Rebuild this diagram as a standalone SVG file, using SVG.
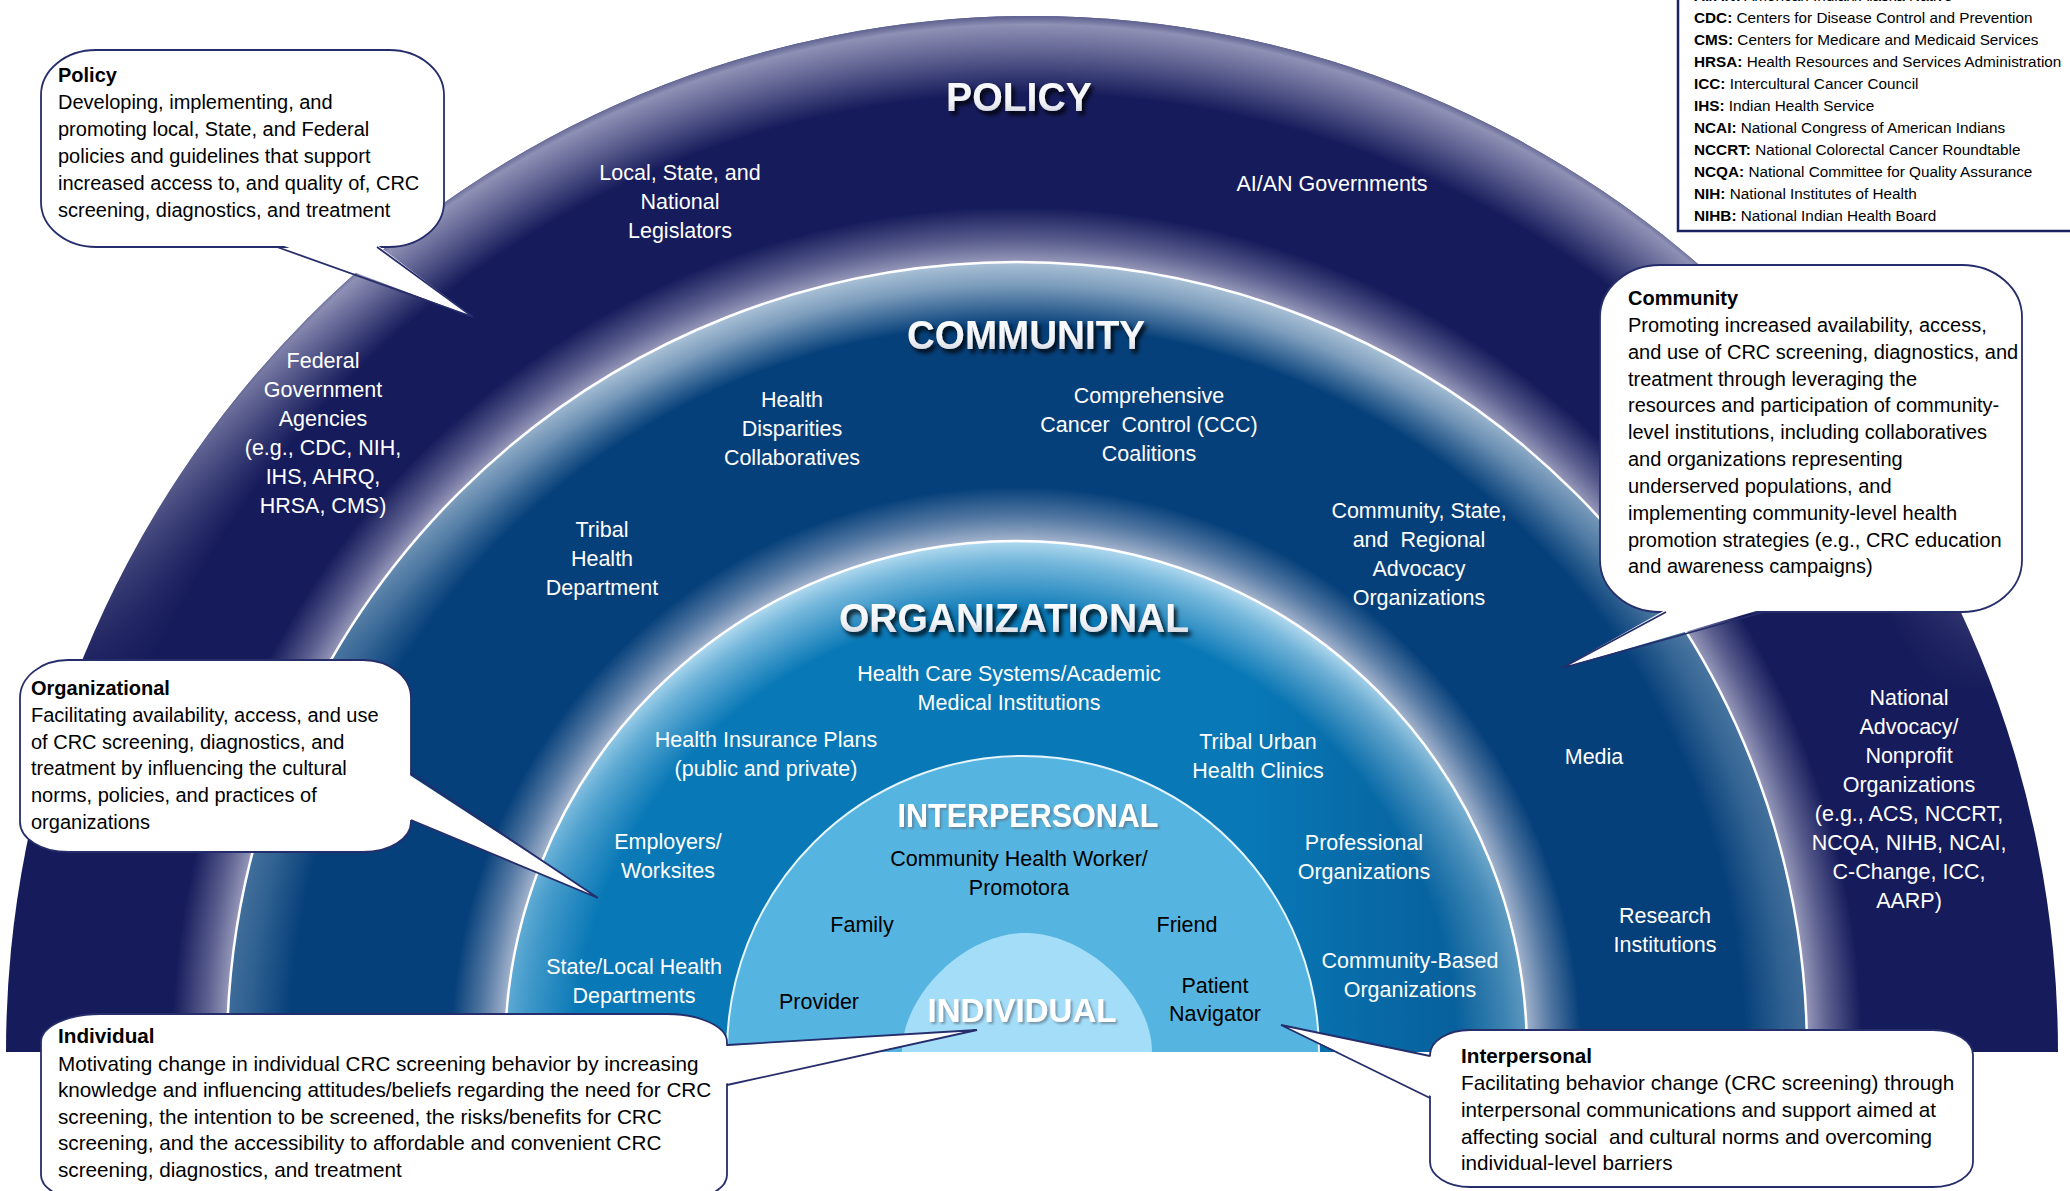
<svg xmlns="http://www.w3.org/2000/svg" width="2070" height="1191" viewBox="0 0 2070 1191">
<style>
.lbl{font-family:"Liberation Sans",Arial,sans-serif;font-size:21.5px;fill:#fff;text-anchor:middle}
.lbk{font-family:"Liberation Sans",Arial,sans-serif;font-size:21.5px;fill:#000;text-anchor:middle}
.bt{font-family:"Liberation Sans",Arial,sans-serif;font-size:20px;fill:#000}
.bt2{font-family:"Liberation Sans",Arial,sans-serif;font-size:20.7px;fill:#000}
.bh{font-weight:bold}
.leg{font-family:"Liberation Sans",Arial,sans-serif;font-size:15.3px;fill:#000}
.ttl{font-family:"Liberation Sans",Arial,sans-serif;font-weight:bold;font-size:41px;text-anchor:middle;fill:url(#gTitle)}
.ttl2{font-family:"Liberation Sans",Arial,sans-serif;font-weight:bold;font-size:33px;text-anchor:middle;fill:#fff}
.bub{fill:#fff;stroke:#262d6b;stroke-width:1.8}
.tailf{fill:#fff;stroke:none}
.tails{fill:none;stroke:#262d6b;stroke-width:1.8;stroke-linejoin:miter}
.wline{fill:none;stroke:#fff;stroke-width:2.5}
</style>
<defs>
<linearGradient id="gTitle" x1="0" y1="0" x2="0" y2="1">
<stop offset="0" stop-color="#ffffff"/><stop offset="0.6" stop-color="#f2f3f7"/><stop offset="1" stop-color="#c4c8d6"/>
</linearGradient>
<filter id="shDark" x="-10%" y="-40%" width="125%" height="190%">
<feDropShadow dx="3" dy="4" stdDeviation="2" flood-color="#000" flood-opacity="0.85"/>
</filter>
<filter id="shLight" x="-10%" y="-40%" width="125%" height="190%">
<feDropShadow dx="2" dy="2" stdDeviation="1.2" flood-color="#5f7489" flood-opacity="0.7"/>
</filter>
<radialGradient id="gPolGlow" gradientUnits="userSpaceOnUse" cx="1032" cy="1052" r="1036">
<stop offset="0.925" stop-color="#9698ba" stop-opacity="0"/>
<stop offset="0.97" stop-color="#9698ba" stop-opacity="0.65"/>
<stop offset="0.992" stop-color="#9c9ebf" stop-opacity="0.9"/>
<stop offset="1" stop-color="#7d80a6" stop-opacity="0.7"/>
</radialGradient>
<linearGradient id="fadePol" gradientUnits="userSpaceOnUse" x1="0" y1="0" x2="0" y2="1052">
<stop offset="0" stop-color="#fff"/><stop offset="0.28" stop-color="#fff"/><stop offset="0.66" stop-color="#000"/><stop offset="1" stop-color="#000"/>
</linearGradient>
<mask id="mPol" maskUnits="userSpaceOnUse" x="0" y="0" width="2070" height="1191"><rect width="2070" height="1191" fill="url(#fadePol)"/></mask>
<radialGradient id="gComHalo" gradientUnits="userSpaceOnUse" cx="1017" cy="1052" r="845">
<stop offset="0.93" stop-color="#acaec9" stop-opacity="0.95"/>
<stop offset="0.965" stop-color="#8f92b6" stop-opacity="0.5"/>
<stop offset="1" stop-color="#8f92b6" stop-opacity="0"/>
</radialGradient>
<radialGradient id="gComGlow" gradientUnits="userSpaceOnUse" cx="1017" cy="1052" r="790">
<stop offset="0.92" stop-color="#a6bdd3" stop-opacity="0"/>
<stop offset="0.972" stop-color="#a6bdd3" stop-opacity="0.75"/>
<stop offset="1" stop-color="#b3c8db" stop-opacity="0.95"/>
</radialGradient>
<linearGradient id="fadeCom" gradientUnits="userSpaceOnUse" x1="0" y1="250" x2="0" y2="1052">
<stop offset="0" stop-color="#fff"/><stop offset="0.15" stop-color="#fff"/><stop offset="0.5" stop-color="#6a6a6a"/><stop offset="1" stop-color="#555"/>
</linearGradient>
<mask id="mCom" maskUnits="userSpaceOnUse" x="0" y="0" width="2070" height="1191"><rect width="2070" height="1191" fill="url(#fadeCom)"/></mask>
<radialGradient id="gOrgHalo" gradientUnits="userSpaceOnUse" cx="1016" cy="1052" r="565">
<stop offset="0.9" stop-color="#c0c9dc" stop-opacity="0.9"/>
<stop offset="0.95" stop-color="#a9b6cf" stop-opacity="0.45"/>
<stop offset="1" stop-color="#a9b6cf" stop-opacity="0"/>
</radialGradient>
<radialGradient id="gOrgGlow" gradientUnits="userSpaceOnUse" cx="1016" cy="1052" r="511">
<stop offset="0.86" stop-color="#b8def2" stop-opacity="0"/>
<stop offset="0.96" stop-color="#b8def2" stop-opacity="0.62"/>
<stop offset="1" stop-color="#c4e4f5" stop-opacity="0.9"/>
</radialGradient>
<linearGradient id="fadeOrg" gradientUnits="userSpaceOnUse" x1="0" y1="540" x2="0" y2="1052">
<stop offset="0" stop-color="#fff"/><stop offset="0.2" stop-color="#fff"/><stop offset="0.7" stop-color="#8a8a8a"/><stop offset="1" stop-color="#808080"/>
</linearGradient>
<mask id="mOrg" maskUnits="userSpaceOnUse" x="0" y="0" width="2070" height="1191"><rect width="2070" height="1191" fill="url(#fadeOrg)"/></mask>
<linearGradient id="gOrgDark" gradientUnits="userSpaceOnUse" x1="1250" y1="0" x2="1530" y2="0">
<stop offset="0" stop-color="#05386f" stop-opacity="0"/><stop offset="1" stop-color="#05386f" stop-opacity="0.5"/>
</linearGradient>
</defs>

<rect width="2070" height="1191" fill="#fff"/>

<g id="policy">
<path d="M 6 1052 A 1026 1036 0 0 1 2058 1052 Z" fill="#161b5b"/>
<path d="M 6 1052 A 1026 1036 0 0 1 2058 1052 Z" fill="url(#gPolGlow)" mask="url(#mPol)"/>
<path d="M 172 1052 A 845 845 0 0 1 1862 1052 Z" fill="url(#gComHalo)"/>
<text class="ttl" x="1019" y="111" textLength="146" lengthAdjust="spacingAndGlyphs" filter="url(#shDark)">POLICY</text>
<text class="lbl" x="680" y="180">Local, State, and</text>
<text class="lbl" x="680" y="209">National</text>
<text class="lbl" x="680" y="238">Legislators</text>
<text class="lbl" x="1332" y="191">AI/AN Governments</text>
<text class="lbl" x="323" y="368">Federal</text>
<text class="lbl" x="323" y="397">Government</text>
<text class="lbl" x="323" y="426">Agencies</text>
<text class="lbl" x="323" y="455">(e.g., CDC, NIH,</text>
<text class="lbl" x="323" y="484">IHS, AHRQ,</text>
<text class="lbl" x="323" y="513">HRSA, CMS)</text>
<text class="lbl" x="1909" y="705">National</text>
<text class="lbl" x="1909" y="734">Advocacy/</text>
<text class="lbl" x="1909" y="763">Nonprofit</text>
<text class="lbl" x="1909" y="792">Organizations</text>
<text class="lbl" x="1909" y="821">(e.g., ACS, NCCRT,</text>
<text class="lbl" x="1909" y="850">NCQA, NIHB, NCAI,</text>
<text class="lbl" x="1909" y="879">C-Change, ICC,</text>
<text class="lbl" x="1909" y="908">AARP)</text>
</g>

<g id="community">
<path d="M 227 1052 A 790 790 0 0 1 1807 1052 Z" fill="#06407a"/>
<path d="M 227 1052 A 790 790 0 0 1 1807 1052 Z" fill="url(#gComGlow)" mask="url(#mCom)"/>
<path d="M 451 1052 A 565 565 0 0 1 1581 1052 Z" fill="url(#gOrgHalo)"/>
<path class="wline" d="M 227 1052 A 790 790 0 0 1 1807 1052"/>
<text class="ttl" x="1026" y="349" textLength="238" lengthAdjust="spacingAndGlyphs" filter="url(#shDark)">COMMUNITY</text>
<text class="lbl" x="792" y="407">Health</text>
<text class="lbl" x="792" y="436">Disparities</text>
<text class="lbl" x="792" y="465">Collaboratives</text>
<text class="lbl" x="1149" y="403">Comprehensive</text>
<text class="lbl" x="1149" y="432" xml:space="preserve">Cancer  Control (CCC)</text>
<text class="lbl" x="1149" y="461">Coalitions</text>
<text class="lbl" x="602" y="537">Tribal</text>
<text class="lbl" x="602" y="566">Health</text>
<text class="lbl" x="602" y="595">Department</text>
<text class="lbl" x="1419" y="518">Community, State,</text>
<text class="lbl" x="1419" y="547" xml:space="preserve">and  Regional</text>
<text class="lbl" x="1419" y="576">Advocacy</text>
<text class="lbl" x="1419" y="605">Organizations</text>
<text class="lbl" x="1594" y="764">Media</text>
<text class="lbl" x="1665" y="923">Research</text>
<text class="lbl" x="1665" y="952">Institutions</text>
</g>

<g id="organizational">
<path d="M 505 1052 A 511 511 0 0 1 1527 1052 Z" fill="#0878b6"/>
<path d="M 505 1052 A 511 511 0 0 1 1527 1052 Z" fill="url(#gOrgDark)"/>
<path d="M 505 1052 A 511 511 0 0 1 1527 1052 Z" fill="url(#gOrgGlow)" mask="url(#mOrg)"/>
<path class="wline" d="M 505 1052 A 511 511 0 0 1 1527 1052"/>
<text class="ttl" x="1014" y="632" textLength="350" lengthAdjust="spacingAndGlyphs" filter="url(#shDark)">ORGANIZATIONAL</text>
<text class="lbl" x="1009" y="681">Health Care Systems/Academic</text>
<text class="lbl" x="1009" y="710">Medical Institutions</text>
<text class="lbl" x="766" y="747">Health Insurance Plans</text>
<text class="lbl" x="766" y="776">(public and private)</text>
<text class="lbl" x="1258" y="749">Tribal Urban</text>
<text class="lbl" x="1258" y="778">Health Clinics</text>
<text class="lbl" x="668" y="849">Employers/</text>
<text class="lbl" x="668" y="878">Worksites</text>
<text class="lbl" x="1364" y="850">Professional</text>
<text class="lbl" x="1364" y="879">Organizations</text>
<text class="lbl" x="634" y="974">State/Local Health</text>
<text class="lbl" x="634" y="1003">Departments</text>
<text class="lbl" x="1410" y="968">Community-Based</text>
<text class="lbl" x="1410" y="997">Organizations</text>
</g>

<g id="interpersonal">
<path d="M 727 1052 A 296 296 0 0 1 1319 1052 Z" fill="#56b5e0"/>
<path d="M 727 1052 A 296 296 0 0 1 1319 1052" fill="none" stroke="#e6f4fb" stroke-width="2"/>
<text class="ttl2" x="1028" y="827" textLength="261" lengthAdjust="spacingAndGlyphs" filter="url(#shLight)">INTERPERSONAL</text>
<text class="lbk" x="1019" y="866">Community Health Worker/</text>
<text class="lbk" x="1019" y="895">Promotora</text>
<text class="lbk" x="862" y="932">Family</text>
<text class="lbk" x="1187" y="932">Friend</text>
<text class="lbk" x="819" y="1009">Provider</text>
<text class="lbk" x="1215" y="993">Patient</text>
<text class="lbk" x="1215" y="1021">Navigator</text>
</g>

<g id="individual">
<path d="M 902 1052 C 902 995 965 933 1025 933 C 1087 933 1152 995 1152 1052 Z" fill="#a3ddf8"/>
<text class="ttl2" x="1022" y="1022" filter="url(#shLight)">INDIVIDUAL</text>
</g>

<g id="legend">
<rect x="1678" y="-10" width="420" height="241" fill="#fff" stroke="#1c2260" stroke-width="2.5"/>
<text class="leg" x="1694" y="1"><tspan class="bh">AI/AN:</tspan> American Indian/Alaska Native</text>
<text class="leg" x="1694" y="23"><tspan class="bh">CDC:</tspan> Centers for Disease Control and Prevention</text>
<text class="leg" x="1694" y="45"><tspan class="bh">CMS:</tspan> Centers for Medicare and Medicaid Services</text>
<text class="leg" x="1694" y="67"><tspan class="bh">HRSA:</tspan> Health Resources and Services Administration</text>
<text class="leg" x="1694" y="89"><tspan class="bh">ICC:</tspan> Intercultural Cancer Council</text>
<text class="leg" x="1694" y="111"><tspan class="bh">IHS:</tspan> Indian Health Service</text>
<text class="leg" x="1694" y="133"><tspan class="bh">NCAI:</tspan> National Congress of American Indians</text>
<text class="leg" x="1694" y="155"><tspan class="bh">NCCRT:</tspan> National Colorectal Cancer Roundtable</text>
<text class="leg" x="1694" y="177"><tspan class="bh">NCQA:</tspan> National Committee for Quality Assurance</text>
<text class="leg" x="1694" y="199"><tspan class="bh">NIH:</tspan> National Institutes of Health</text>
<text class="leg" x="1694" y="221"><tspan class="bh">NIHB:</tspan> National Indian Health Board</text>
</g>

<g id="callout-policy">
<path class="bub" d="M 96 50 H 389 A 55 45 0 0 1 444 95 V 202 A 55 45 0 0 1 389 247 H 96 A 55 45 0 0 1 41 202 V 95 A 55 45 0 0 1 96 50 Z"/>
<text class="bt bh" x="58" y="82">Policy</text>
<text class="bt" x="58" y="109">Developing, implementing, and</text>
<text class="bt" x="58" y="136">promoting local, State, and Federal</text>
<text class="bt" x="58" y="163">policies and guidelines that support</text>
<text class="bt" x="58" y="190">increased access to, and quality of, CRC</text>
<text class="bt" x="58" y="217">screening, diagnostics, and treatment</text>
</g>

<g id="callout-community">
<path class="bub" d="M 1660 265 H 1962 A 60 52 0 0 1 2022 317 V 560 A 60 52 0 0 1 1962 612 H 1660 A 60 52 0 0 1 1600 560 V 317 A 60 52 0 0 1 1660 265 Z"/>
<text class="bt bh" x="1628" y="305">Community</text>
<text class="bt" x="1628" y="332">Promoting increased availability, access,</text>
<text class="bt" x="1628" y="359">and use of CRC screening, diagnostics, and</text>
<text class="bt" x="1628" y="386">treatment through leveraging the</text>
<text class="bt" x="1628" y="412">resources and participation of community-</text>
<text class="bt" x="1628" y="439">level institutions, including collaboratives</text>
<text class="bt" x="1628" y="466">and organizations representing</text>
<text class="bt" x="1628" y="493">underserved populations, and</text>
<text class="bt" x="1628" y="520">implementing community-level health</text>
<text class="bt" x="1628" y="547">promotion strategies (e.g., CRC education</text>
<text class="bt" x="1628" y="573">and awareness campaigns)</text>
</g>

<g id="callout-organizational">
<path class="bub" d="M 68 660 H 363 A 48 38 0 0 1 411 698 V 822 A 48 30 0 0 1 363 852 H 68 A 48 30 0 0 1 20 822 V 698 A 48 38 0 0 1 68 660 Z"/>
<text class="bt bh" x="31" y="695">Organizational</text>
<text class="bt" x="31" y="722">Facilitating availability, access, and use</text>
<text class="bt" x="31" y="749">of CRC screening, diagnostics, and</text>
<text class="bt" x="31" y="775">treatment by influencing the cultural</text>
<text class="bt" x="31" y="802">norms, policies, and practices of</text>
<text class="bt" x="31" y="829">organizations</text>
</g>

<g id="callout-individual">
<path class="bub" d="M 100 1014 H 667 A 60 28 0 0 1 727 1042 V 1175 A 60 28 0 0 1 667 1203 H 100 A 59 28 0 0 1 41 1175 V 1042 A 59 28 0 0 1 100 1014 Z"/>
<text class="bt2 bh" x="58" y="1043">Individual</text>
<text class="bt2" x="58" y="1071">Motivating change in individual CRC screening behavior by increasing</text>
<text class="bt2" x="58" y="1097">knowledge and influencing attitudes/beliefs regarding the need for CRC</text>
<text class="bt2" x="58" y="1124">screening, the intention to be screened, the risks/benefits for CRC</text>
<text class="bt2" x="58" y="1150">screening, and the accessibility to affordable and convenient CRC</text>
<text class="bt2" x="58" y="1177">screening, diagnostics, and treatment</text>
</g>

<g id="callout-interpersonal">
<path class="bub" d="M 1470 1030 H 1933 A 40 25 0 0 1 1973 1055 V 1162 A 40 25 0 0 1 1933 1187 H 1470 A 40 25 0 0 1 1430 1162 V 1055 A 40 25 0 0 1 1470 1030 Z"/>
<text class="bt2 bh" x="1461" y="1063">Interpersonal</text>
<text class="bt2" x="1461" y="1090">Facilitating behavior change (CRC screening) through</text>
<text class="bt2" x="1461" y="1117">interpersonal communications and support aimed at</text>
<text class="bt2" x="1461" y="1144" xml:space="preserve">affecting social  and cultural norms and overcoming</text>
<text class="bt2" x="1461" y="1170">individual-level barriers</text>
</g>

<g id="connectors">
<polygon class="tailf" points="279,244 376,244 473,317"/>
<polyline class="tails" points="277,247 473,317 377,247"/>
<polygon class="tailf" points="1667,609 1763,609 1562,668"/>
<polyline class="tails" points="1666,612 1562,668 1764,612"/>
<polygon class="tailf" points="408,774 408,819 598,898"/>
<polyline class="tails" points="411,773 598,898 411,820"/>
<polygon class="tailf" points="724,1046 724,1084 977,1030"/>
<polyline class="tails" points="727,1045 977,1030 727,1085"/>
<polygon class="tailf" points="1433,1057 1433,1097 1281,1025"/>
<polyline class="tails" points="1430,1056 1281,1025 1430,1098"/>
</g>
</svg>
